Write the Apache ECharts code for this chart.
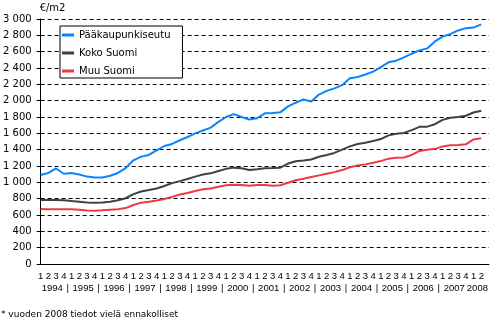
<!DOCTYPE html>
<html><head><meta charset="utf-8">
<script src="https://cdn.jsdelivr.net/npm/echarts@6/dist/echarts.min.js"></script>
<style>html,body{margin:0;padding:0;background:#fff}#c{width:494px;height:322px}</style>
</head><body><div id="c"></div>
<script>
const quarters = ['1','2','3','4','1','2','3','4','1','2','3','4','1','2','3','4','1','2','3','4',
  '1','2','3','4','1','2','3','4','1','2','3','4','1','2','3','4','1','2','3','4',
  '1','2','3','4','1','2','3','4','1','2','3','4','1','2','3','4','1','2'];
const years = ['1994','1995','1996','1997','1998','1999','2000','2001','2002','2003','2004','2005','2006','2007','2008'];
const yTickLabels = ['0','200','400','600','800','1 000','1 200','1 400','1 600','1 800','2 000','2 200','2 400','2 600','2 800','3 000'];
const seriesNames = ['Pääkaupunkiseutu','Koko Suomi','Muu Suomi'];
const paakaupunkiseutu = [1090,1115,1170,1105,1115,1095,1070,1060,1060,1080,1115,1175,1270,1315,1335,1390,1445,1470,1515,1555,
  1600,1635,1670,1740,1800,1835,1800,1770,1785,1845,1850,1857,1930,1975,2015,1990,2075,2120,2150,2190,
  2275,2290,2320,2355,2410,2470,2490,2530,2575,2615,2640,2725,2785,2815,2860,2888,2895,2935];
const kokoSuomi = [785,785,785,780,770,763,752,750,752,763,780,805,855,888,905,925,955,990,1015,1040,
  1070,1095,1110,1138,1165,1180,1172,1152,1160,1172,1175,1180,1230,1258,1268,1280,1314,1335,1360,1400,
  1440,1470,1485,1505,1530,1575,1595,1605,1640,1680,1682,1712,1765,1790,1800,1815,1855,1877];
const muuSuomi = [673,670,670,669,669,665,655,653,658,665,670,685,722,751,763,778,795,822,850,870,
  895,915,925,945,965,970,968,958,967,968,958,965,995,1025,1045,1065,1085,1105,1125,1150,
  1185,1205,1220,1240,1260,1290,1300,1305,1335,1385,1400,1410,1440,1455,1458,1465,1525,1539];

const FONT = 'DejaVu Sans';
const XFONT = 'Liberation Sans';
// category axis: one extra empty slot so the axis extends past the last point
const cats = quarters.concat(['']);
// year label positions derived from the quarter count
const yearLabelMap = {};
const yearValues = [];
years.forEach((y, k) => {
  const start = 4 * k;
  const count = Math.min(4, quarters.length - start);
  const center = start + (count - 1) / 2;
  yearLabelMap[center] = y;
  yearValues.push(center);
  if (k > 0) { yearLabelMap[start - 0.5] = '|'; yearValues.push(start - 0.5); }
});

const chart = echarts.init(document.getElementById('c'), null, {renderer: 'canvas'});
chart.setOption({
  animation: false,
  backgroundColor: '#fff',
  color: ['#0a84ff', '#404040', '#f03a3e'],
  title: {
    text: '* vuoden 2008 tiedot vielä ennakolliset',
    left: 1, top: 310, padding: 0,
    textStyle: {fontFamily: FONT, fontSize: 9, fontWeight: 'normal', color: '#000'}
  },
  legend: {
    orient: 'vertical', left: 60, top: 26,
    backgroundColor: '#fff',
    borderColor: '#000', borderWidth: 1, borderRadius: 0,
    padding: [2, 12, 0, 2], itemGap: 4,
    itemWidth: 12, itemHeight: 3, icon: 'rect',
    textStyle: {fontFamily: FONT, fontSize: 10, color: '#000', lineHeight: 14},
    data: seriesNames
  },
  grid: {left: 40, right: 5, top: 19, bottom: 58},
  xAxis: [{
    type: 'category', data: cats, boundaryGap: false,
    axisLine: {show: true, lineStyle: {color: '#000', width: 1}},
    axisTick: {show: false},
    axisLabel: {interval: 0, margin: 7, fontFamily: XFONT, fontSize: 9.5, color: '#000'},
    splitLine: {show: false}
  }, {
    type: 'value', min: 0, max: quarters.length, position: 'bottom', offset: 12,
    axisLine: {show: false}, axisTick: {show: false}, splitLine: {show: false},
    axisLabel: {customValues: yearValues, margin: 7, fontFamily: XFONT, fontSize: 9.5, color: '#000',
      formatter: v => yearLabelMap[v] || ''}
  }],
  yAxis: {
    type: 'value', min: 0, max: 3000, interval: 200,
    name: '€/m2', nameLocation: 'end', nameGap: 6,
    nameTextStyle: {fontFamily: FONT, fontSize: 10, color: '#000', align: 'left', padding: [0, 0, 0, -1]},
    axisLine: {show: true, lineStyle: {color: '#000', width: 1}},
    axisTick: {show: true, length: 4, lineStyle: {color: '#000'}},
    axisLabel: {margin: 9, fontFamily: FONT, fontSize: 10, color: '#000',
      formatter: v => yTickLabels[Math.round(v / 200)]},
    splitLine: {show: true, lineStyle: {color: '#000', type: [4, 3], width: 1}}
  },
  series: [
    {name: seriesNames[0], type: 'line', data: paakaupunkiseutu, symbol: 'none', lineStyle: {width: 2}, xAxisIndex: 0},
    {name: seriesNames[1], type: 'line', data: kokoSuomi, symbol: 'none', lineStyle: {width: 2}, xAxisIndex: 0},
    {name: seriesNames[2], type: 'line', data: muuSuomi, symbol: 'none', lineStyle: {width: 2}, xAxisIndex: 0}
  ]
});
</script></body></html>
